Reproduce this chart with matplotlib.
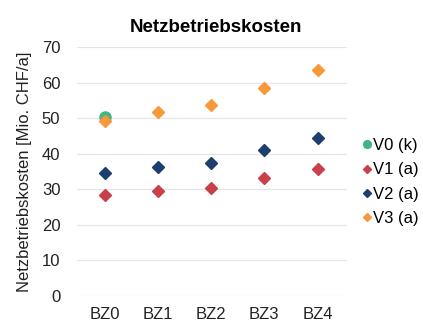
import numpy as np
import matplotlib.pyplot as plt

plt.rcParams['font.family'] = ['Liberation Sans', 'DejaVu Sans']

categories = ['BZ0', 'BZ1', 'BZ2', 'BZ3', 'BZ4']
v0 = [50.4]
v1 = [28.4, 29.4, 30.4, 33.1, 35.7]
v2 = [34.6, 36.2, 37.5, 41.0, 44.5]
v3 = [49.2, 51.6, 53.6, 58.5, 63.6]

x = np.arange(len(categories))

fig = plt.figure(figsize=(4.23, 3.22), dpi=100)
ax = fig.add_axes([0.182, 0.081, 0.638, 0.773])

ax.plot(x[:1], v0, 'o', color='#45b584', markersize=8, label='V0 (k)')
ax.plot(x, v1, 'D', color='#c8414a', markersize=6.5, label='V1 (a)')
ax.plot(x, v2, 'D', color='#1d3f70', markersize=6.5, label='V2 (a)')
ax.plot(x, v3, 'D', color='#f7993a', markersize=6.5, label='V3 (a)')

ax.set_xlim(-0.52, 4.55)
ax.set_ylim(0, 70)
ax.set_yticks(range(0, 71, 10))
ax.set_xticks(x)
ax.set_xticklabels(categories)
ax.grid(axis='y', color='#e6e6e6', linewidth=0.9)
ax.set_axisbelow(True)
for s in ax.spines.values():
    s.set_visible(False)
ax.tick_params(length=0, labelsize=12, colors='#222222')
ax.tick_params(axis='y', pad=12)
ax.tick_params(axis='x', pad=8)

ax.set_ylabel('Netzbetriebskosten [Mio. CHF/a]', fontsize=12, color='#222222', labelpad=7)
ax.set_title('Netzbetriebskosten', fontsize=13.5, fontweight='bold', pad=11, x=0.515)

ax.legend(loc='center left', bbox_to_anchor=(1.02, 0.458), frameon=False,
          fontsize=12, handlelength=0.4, handletextpad=0.15, labelspacing=0.55,
          markerscale=0.7, borderaxespad=0.3)

fig.savefig('out.png', dpi=100)
